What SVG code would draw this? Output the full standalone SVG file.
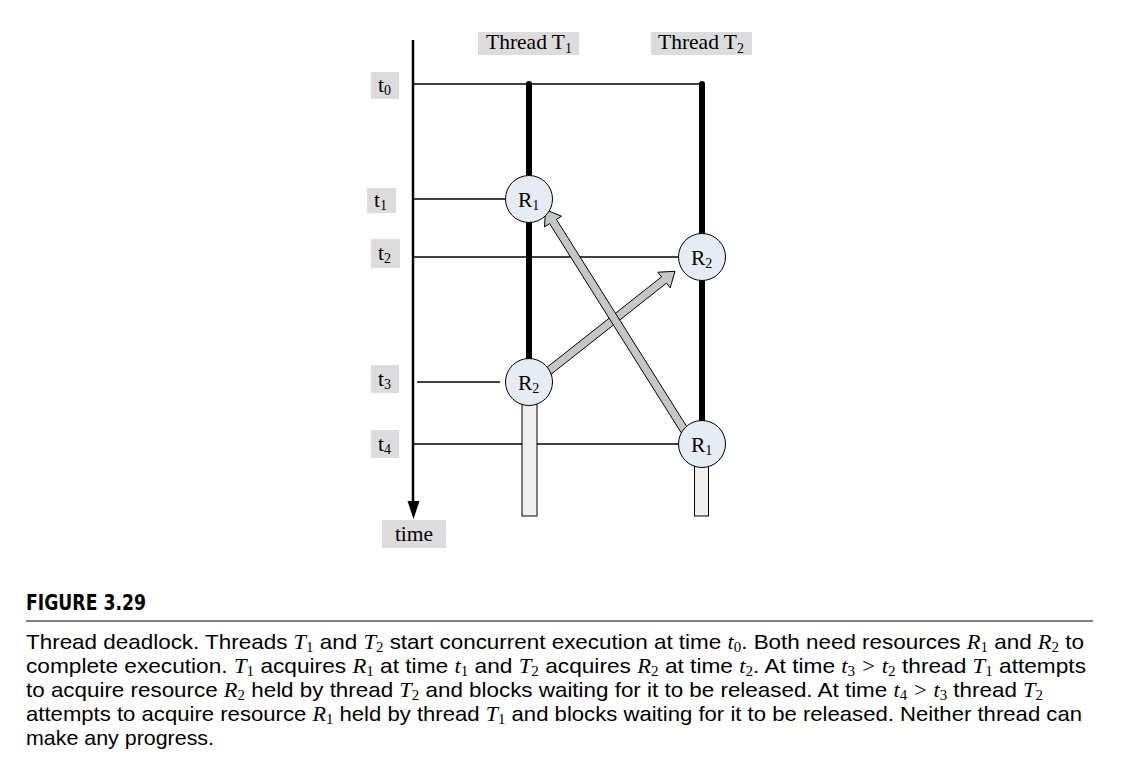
<svg xmlns="http://www.w3.org/2000/svg" width="1136" height="778" viewBox="0 0 1136 778">
<style>
.lbl{fill:#dcdcdc;stroke:none}
.tm{font-family:"Liberation Serif","Times New Roman",serif;font-size:21.5px;fill:#000}
.h{stroke:#000;stroke-width:1.3;fill:none}
.thr{stroke:#000;stroke-width:6;stroke-linecap:round;fill:none}
.blk{fill:#efefef;stroke:#000;stroke-width:1}
.res{fill:#e7ebf5;stroke:#000;stroke-width:1}
.arr{fill:#c6c6c6;stroke:#000;stroke-width:1;stroke-linejoin:miter}
.cap{font-family:"Liberation Sans",Arial,sans-serif;font-size:21px;fill:#000}
.fig{font-family:"DejaVu Sans Condensed","Liberation Sans",sans-serif;font-size:22px;font-weight:bold;fill:#000}
.mi{font-family:"Liberation Serif","Times New Roman",serif;font-style:italic}
.ms{font-family:"Liberation Serif","Times New Roman",serif;font-size:14px}
</style>
<rect width="1136" height="778" fill="#fff"/>

<g id="connectors">
  <line class="h" x1="413" y1="84" x2="702" y2="84"/>
  <line class="h" x1="413" y1="199" x2="506" y2="199"/>
  <line class="h" x1="413" y1="257" x2="679" y2="257"/>
  <line class="h" x1="417" y1="382" x2="500" y2="382"/>
  <line class="h" x1="413" y1="444" x2="679" y2="444"/>
  <line id="time-axis" x1="413" y1="40" x2="413" y2="503" stroke="#000" stroke-width="2.5"/>
  <polygon points="407.5,501 419.5,501 413.5,519" fill="#000"/>
  <line id="thread1-line" class="thr" x1="529" y1="84" x2="529" y2="382"/>
  <line id="thread2-line" class="thr" x1="702" y1="84" x2="702" y2="444"/>
  <rect id="t1-blocked" class="blk" x="522" y="400" width="15" height="116"/>
  <rect id="t2-blocked" class="blk" x="694.5" y="462" width="14" height="54"/>
  <polygon id="arrow-t3" class="arr" points="546.2,378.1 666.5,283.1 670.2,287.9 675,271.3 657.8,272.2 661.5,276.9 541.2,371.9"/>
  <polygon id="arrow-t4" class="arr" points="684.9,438.6 549.6,223.6 544.5,226.8 545.5,209.7 561.5,216.2 556.4,219.4 691.7,434.4"/>
</g>

<g id="thread1-label">
  <rect class="lbl" x="478" y="32" width="101" height="23"/>
  <text class="tm" x="486" y="49">Thread T<tspan font-size="14" dy="4">1</tspan></text>
</g>
<g id="thread2-label">
  <rect class="lbl" x="651" y="32" width="101" height="23"/>
  <text class="tm" x="658" y="49">Thread T<tspan font-size="14" dy="4">2</tspan></text>
</g>

<g id="t0-label">
  <rect class="lbl" x="371" y="72" width="28" height="27"/>
  <text class="tm" x="378" y="92">t<tspan font-size="14" dy="3">0</tspan></text>
</g>
<g id="t1-label">
  <rect class="lbl" x="367" y="188" width="29" height="25"/>
  <text class="tm" x="374" y="207">t<tspan font-size="14" dy="3">1</tspan></text>
</g>
<g id="t2-label">
  <rect class="lbl" x="371" y="239" width="29" height="29"/>
  <text class="tm" x="378" y="260">t<tspan font-size="14" dy="3">2</tspan></text>
</g>
<g id="t3-label">
  <rect class="lbl" x="371" y="365" width="28" height="28"/>
  <text class="tm" x="378" y="386">t<tspan font-size="14" dy="3">3</tspan></text>
</g>
<g id="t4-label">
  <rect class="lbl" x="371" y="430" width="28" height="28"/>
  <text class="tm" x="378" y="451">t<tspan font-size="14" dy="3">4</tspan></text>
</g>
<g id="time-label">
  <rect class="lbl" x="382" y="520" width="64" height="28"/>
  <text class="tm" x="414" y="541" text-anchor="middle">time</text>
</g>

<g id="r1-t1">
  <circle class="res" cx="529" cy="199" r="23.5"/>
  <text class="tm" x="518" y="206.5">R<tspan font-size="14" dy="3">1</tspan></text>
</g>
<g id="r2-t2">
  <circle class="res" cx="702" cy="257" r="23.5"/>
  <text class="tm" x="691" y="264.5">R<tspan font-size="14" dy="3">2</tspan></text>
</g>
<g id="r2-t1">
  <circle class="res" cx="529" cy="382" r="23.5"/>
  <text class="tm" x="518" y="389.5">R<tspan font-size="14" dy="3">2</tspan></text>
</g>
<g id="r1-t2">
  <circle class="res" cx="702" cy="444" r="23.5"/>
  <text class="tm" x="691" y="451.5">R<tspan font-size="14" dy="3">1</tspan></text>
</g>

<g id="caption">
  <text class="fig" x="26" y="610" textLength="120" lengthAdjust="spacingAndGlyphs">FIGURE 3.29</text>
  <line x1="26" y1="621" x2="1093" y2="621" stroke="#000" stroke-width="1.2"/>
  <text class="cap" x="26" y="649" textLength="1058" lengthAdjust="spacingAndGlyphs">Thread deadlock. Threads <tspan class="mi">T</tspan><tspan class="ms" dy="3">1</tspan><tspan dy="-3"> and </tspan><tspan class="mi">T</tspan><tspan class="ms" dy="3">2</tspan><tspan dy="-3"> start concurrent execution at time </tspan><tspan class="mi">t</tspan><tspan class="ms" dy="3">0</tspan><tspan dy="-3">. Both need resources </tspan><tspan class="mi">R</tspan><tspan class="ms" dy="3">1</tspan><tspan dy="-3"> and </tspan><tspan class="mi">R</tspan><tspan class="ms" dy="3">2</tspan><tspan dy="-3"> to</tspan></text>
  <text class="cap" x="26" y="673" textLength="1060" lengthAdjust="spacingAndGlyphs">complete execution. <tspan class="mi">T</tspan><tspan class="ms" dy="3">1</tspan><tspan dy="-3"> acquires </tspan><tspan class="mi">R</tspan><tspan class="ms" dy="3">1</tspan><tspan dy="-3"> at time </tspan><tspan class="mi">t</tspan><tspan class="ms" dy="3">1</tspan><tspan dy="-3"> and </tspan><tspan class="mi">T</tspan><tspan class="ms" dy="3">2</tspan><tspan dy="-3"> acquires </tspan><tspan class="mi">R</tspan><tspan class="ms" dy="3">2</tspan><tspan dy="-3"> at time </tspan><tspan class="mi">t</tspan><tspan class="ms" dy="3">2</tspan><tspan dy="-3">. At time </tspan><tspan class="mi">t</tspan><tspan class="ms" dy="3">3</tspan><tspan dy="-3" class="mi"> &gt; t</tspan><tspan class="ms" dy="3">2</tspan><tspan dy="-3"> thread </tspan><tspan class="mi">T</tspan><tspan class="ms" dy="3">1</tspan><tspan dy="-3"> attempts</tspan></text>
  <text class="cap" x="26" y="697" textLength="1017" lengthAdjust="spacingAndGlyphs">to acquire resource <tspan class="mi">R</tspan><tspan class="ms" dy="3">2</tspan><tspan dy="-3"> held by thread </tspan><tspan class="mi">T</tspan><tspan class="ms" dy="3">2</tspan><tspan dy="-3"> and blocks waiting for it to be released. At time </tspan><tspan class="mi">t</tspan><tspan class="ms" dy="3">4</tspan><tspan dy="-3" class="mi"> &gt; t</tspan><tspan class="ms" dy="3">3</tspan><tspan dy="-3"> thread </tspan><tspan class="mi">T</tspan><tspan class="ms" dy="3">2</tspan></text>
  <text class="cap" x="26" y="721" textLength="1056" lengthAdjust="spacingAndGlyphs">attempts to acquire resource <tspan class="mi">R</tspan><tspan class="ms" dy="3">1</tspan><tspan dy="-3"> held by thread </tspan><tspan class="mi">T</tspan><tspan class="ms" dy="3">1</tspan><tspan dy="-3"> and blocks waiting for it to be released. Neither thread can</tspan></text>
  <text class="cap" x="26" y="745" textLength="188" lengthAdjust="spacingAndGlyphs">make any progress.</text>
</g>
</svg>
